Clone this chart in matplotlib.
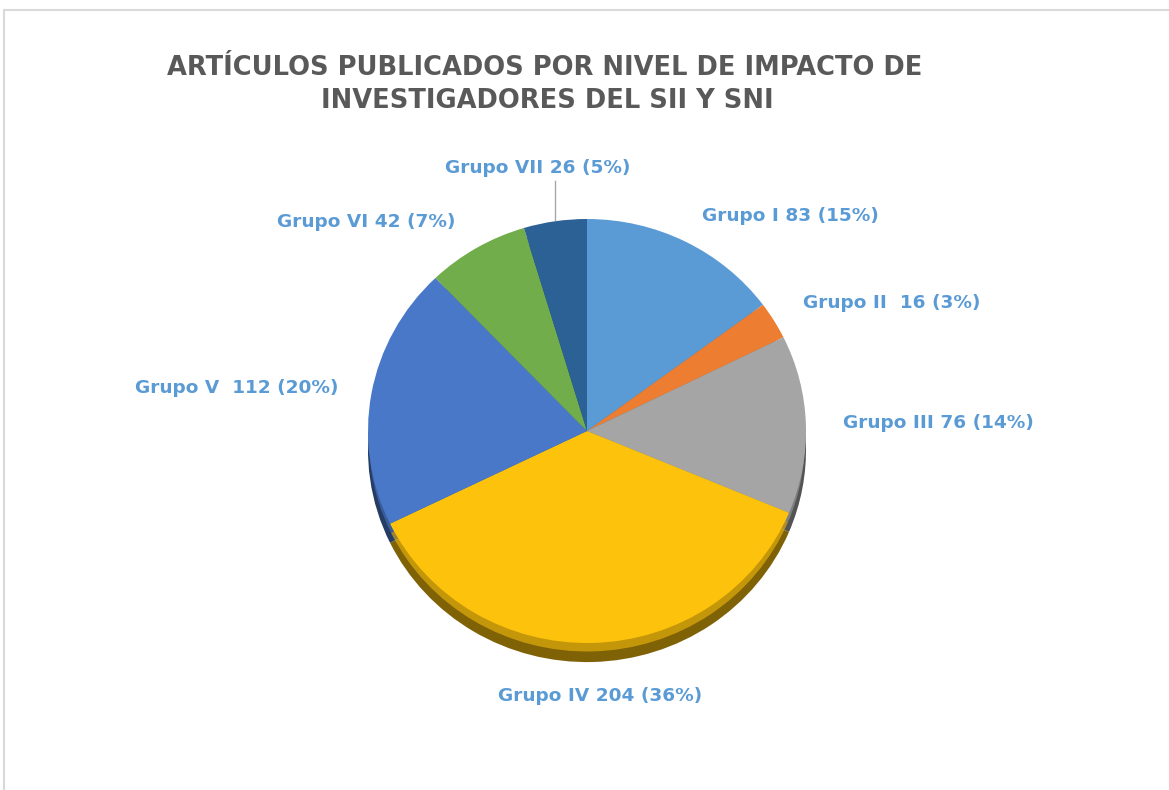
import matplotlib.pyplot as plt
import matplotlib.colors as mcolors
from matplotlib.patches import Rectangle

# datos
grupos = ["Grupo I", "Grupo II ", "Grupo III", "Grupo IV", "Grupo V ", "Grupo VI", "Grupo VII"]
articulos = [83, 16, 76, 204, 112, 42, 26]
porcentajes = [15, 3, 14, 36, 20, 7, 5]
colores = ["#5B9BD5", "#ED7D31", "#A5A5A5", "#FDC20C", "#4A78C8", "#72AD4B", "#2B6194"]

W, H = 1169, 790
fig = plt.figure(figsize=(W / 100, H / 100), dpi=100)
fig.patch.set_facecolor("white")

# marco gris
fig.patches.append(Rectangle((4 / W, -0.1), 1.2, (H - 10) / H + 0.1, transform=fig.transFigure,
                             fill=False, edgecolor="#D9D9D9", linewidth=1.5))

# ejes del pastel: centro (587, 431) px
cx, cy, half = 587, 431, 260
rx, ry = 219, 212
ax = fig.add_axes([(cx - half) / W, (H - cy - half) / H, 2 * half / W, 2 * half / H])

# borde 3D (capa oscura desplazada hacia abajo)
oscuros = [tuple(c * 0.5 for c in mcolors.to_rgb(col)) for col in colores]
ax.pie(articulos, colors=oscuros, startangle=90, counterclock=False, center=(0, -0.09),
       radius=1.0, wedgeprops=dict(linewidth=0))
ax.pie(articulos, colors=colores, startangle=90, counterclock=False, center=(0, -0.045),
       radius=0.995, wedgeprops=dict(linewidth=0, alpha=0.55))
ax.pie(articulos, colors=colores, startangle=90, counterclock=False, radius=1.0,
       wedgeprops=dict(linewidth=0))
ax.set_aspect("auto")
ax.set_xlim(-half / rx, half / rx)
ax.set_ylim(-half / ry, half / ry)
ax.axis("off")

# titulo
fig.text(545 / W, 1 - 68 / H, "ARTÍCULOS PUBLICADOS POR NIVEL DE IMPACTO DE", ha="center", va="center",
         fontsize=18.5, fontweight="bold", color="#595959")
fig.text(547 / W, 1 - 101 / H, "INVESTIGADORES DEL SII Y SNI", ha="center", va="center",
         fontsize=18.5, fontweight="bold", color="#595959")

# etiquetas
pos_etiquetas = [(790, 216), (892, 303), (938, 423), (600, 696), (237, 388), (366, 222), (538, 168)]
for g, v, p, (x, y) in zip(grupos, articulos, porcentajes, pos_etiquetas):
    fig.text(x / W, 1 - y / H, f"{g} {v} ({p}%)", ha="center", va="center",
             fontsize=13.3, fontweight="bold", color="#5B9BD5")

# linea guia de Grupo VII
fig.add_artist(plt.Line2D([555 / W, 555 / W], [1 - 181 / H, 1 - 220 / H], color="#A6A6A6", linewidth=1))

fig.savefig("out.png", dpi=100)
